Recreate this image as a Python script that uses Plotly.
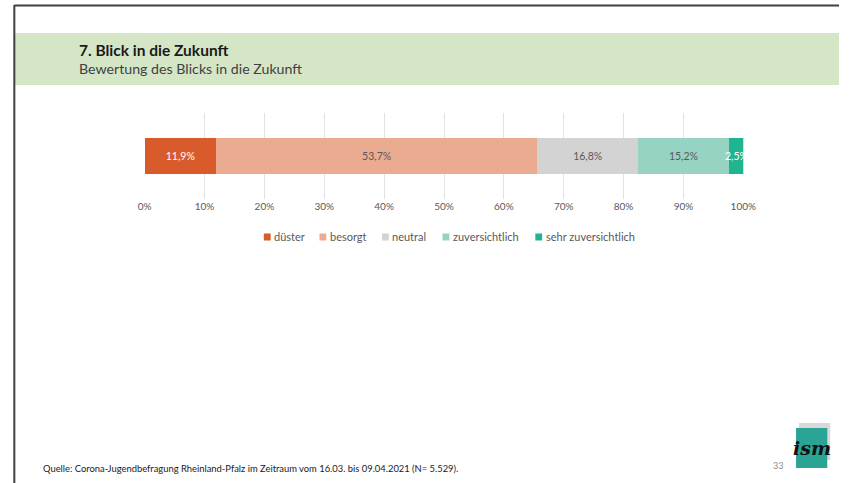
import plotly.graph_objects as go

W, H = 852, 483

# Survey answers and their shares in percent
categories = ["düster", "besorgt", "neutral", "zuversichtlich", "sehr zuversichtlich"]
shares = [11.9, 53.7, 16.8, 15.2, 2.5]
colors = ["#d95b2b", "#ebab91", "#d3d3d3", "#97d3c3", "#20b491"]
label_colors = ["#ffffff", "#595959", "#595959", "#595959", "#ffffff"]
tick_values = [0, 10, 20, 30, 40, 50, 60, 70, 80, 90, 100]
tick_labels = [f"{v}%" for v in tick_values]

FONT = "Lato, Noto Sans, sans-serif"

# left edges of the legend swatches (pixels)
legend_x = [263, 320, 384, 446, 541]
LEGEND_Y = 237


def px(x):
    return x / W


def py(y):
    return 1 - y / H


def fmt(v):
    return f"{v:.1f}".replace(".", ",") + "%"


fig = go.Figure()
for i, (cat, val, col, lcol) in enumerate(zip(categories, shares, colors, label_colors)):
    # the narrow last segment gets its label as an annotation so it can overflow
    show_text = i < len(shares) - 1
    fig.add_trace(go.Bar(
        y=[""], x=[val], name=cat, orientation="h",
        marker=dict(color=col, line=dict(width=0)),
        text=[fmt(val)] if show_text else None, textposition="inside",
        insidetextanchor="middle", textangle=0,
        textfont=dict(color=lcol, size=10.5, family=FONT),
        hoverinfo="skip", showlegend=False,
    ))

annotations = []
start = sum(shares[:-1])
annotations.append(dict(
    text=fmt(shares[-1]), x=start + shares[-1] / 2, y=0, xref="x", yref="y",
    xanchor="center", yanchor="middle", showarrow=False,
    font=dict(size=10.5, color=label_colors[-1], family=FONT)))

shapes = [
    # green header band
    dict(type="rect", xref="paper", yref="paper", x0=px(8), x1=1, y0=py(85), y1=py(33),
         fillcolor="#d5e6c7", line=dict(width=0), layer="below"),
    # slide frame
    dict(type="line", xref="paper", yref="paper", x0=px(7.5), x1=1, y0=py(5.5), y1=py(5.5),
         line=dict(color="#404040", width=2)),
    dict(type="line", xref="paper", yref="paper", x0=px(7.5), x1=px(7.5), y0=py(5), y1=0,
         line=dict(color="#404040", width=2)),
    # logo
    dict(type="rect", xref="paper", yref="paper", x0=px(811), x1=px(843), y0=py(460), y1=py(423),
         fillcolor="#d9d9d9", line=dict(width=0)),
    dict(type="rect", xref="paper", yref="paper", x0=px(808), x1=px(840), y0=py(468), y1=py(428),
         fillcolor="#2aa595", line=dict(width=0)),
]

# legend: small square swatches with labels
for cat, col, lx in zip(categories, colors, legend_x):
    shapes.append(dict(type="rect", xref="paper", yref="paper",
                       x0=px(lx), x1=px(lx + 7), y0=py(LEGEND_Y + 3.5), y1=py(LEGEND_Y - 3.5),
                       fillcolor=col, line=dict(width=0)))
    annotations.append(dict(text=cat, x=px(lx + 8.5), y=py(LEGEND_Y), xref="paper", yref="paper",
                            xanchor="left", yanchor="middle", showarrow=False,
                            font=dict(size=11, color="#595959", family=FONT)))

annotations += [
    dict(text="<b>7. Blick in die Zukunft</b>", x=px(72), y=py(50), xref="paper", yref="paper",
         xanchor="left", yanchor="middle", showarrow=False,
         font=dict(size=15.5, color="#1a1a1a", family=FONT)),
    dict(text="Bewertung des Blicks in die Zukunft", x=px(72), y=py(69), xref="paper", yref="paper",
         xanchor="left", yanchor="middle", showarrow=False,
         font=dict(size=14.2, color="#404040", family=FONT)),
    dict(text="Quelle: Corona-Jugendbefragung Rheinland-Pfalz im Zeitraum vom 16.03. bis 09.04.2021 (N= 5.529).",
         x=px(35), y=py(468), xref="paper", yref="paper", xanchor="left", yanchor="middle",
         showarrow=False, font=dict(size=9.4, color="#1a1a1a", family=FONT)),
    dict(text="33", x=px(797), y=py(465), xref="paper", yref="paper", xanchor="right",
         yanchor="middle", showarrow=False, font=dict(size=9, color="#8c8c8c", family=FONT)),
    dict(text="<b><i>ism</i></b>", x=px(824), y=py(448), xref="paper", yref="paper",
         xanchor="center", yanchor="middle", showarrow=False,
         font=dict(size=19, color="#111111", family="DejaVu Serif, serif")),
]

fig.update_layout(
    width=W, height=H,
    margin=dict(l=0, r=0, t=0, b=0),
    paper_bgcolor="white", plot_bgcolor="white",
    barmode="stack", bargap=0.59,
    showlegend=False,
    xaxis=dict(domain=[px(141), px(754)], range=[0, 100], tickmode="array",
               tickvals=tick_values, ticktext=tick_labels,
               showgrid=True, gridcolor="#e2e2e2", gridwidth=1,
               zeroline=False, showline=False, ticks="", fixedrange=True,
               tickfont=dict(size=10, color="#595959", family=FONT)),
    yaxis=dict(domain=[py(199), py(113)], range=[-0.5, 0.5], showticklabels=False,
               showgrid=False, zeroline=False, showline=False, fixedrange=True),
    shapes=shapes,
    annotations=annotations,
)

fig.write_html("out.html")
